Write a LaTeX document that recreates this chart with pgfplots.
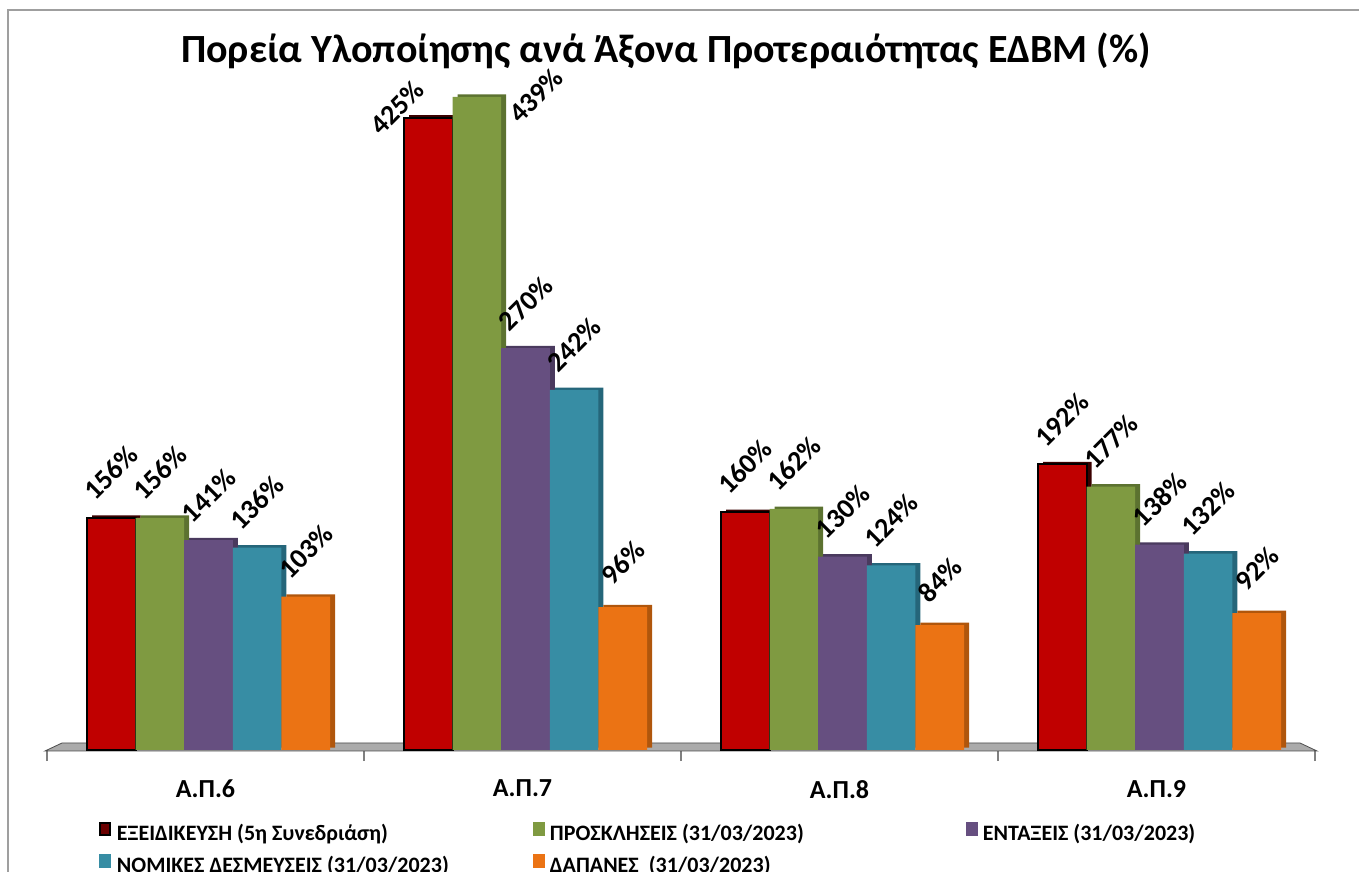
\documentclass[border=0pt]{standalone}
\usepackage{fontspec}
\setmainfont{Carlito}
\usepackage{pgfplots}
\usepackage{pgfplotstable}
\pgfplotsset{compat=1.18}

\definecolor{cRed}{HTML}{C00000}
\definecolor{cGreen}{HTML}{7F9A41}
\definecolor{cPurple}{HTML}{664F80}
\definecolor{cTeal}{HTML}{378DA4}
\definecolor{cOrange}{HTML}{EB7314}
\definecolor{sRed}{HTML}{3A0000}
\definecolor{sGreen}{HTML}{5C7230}
\definecolor{sPurple}{HTML}{4A3A5E}
\definecolor{sTeal}{HTML}{25667A}
\definecolor{sOrange}{HTML}{B0560C}
\definecolor{floor}{HTML}{ABABAB}

% values in %, one row per priority axis
\pgfplotstableread{
x ex pr en no da
0 156 156 141 136 103
1 425 439 270 242 96
2 160 162 130 124 84
3 192 177 138 132 92
}\data

\begin{document}
\begin{tikzpicture}
\path[use as bounding box] (0,0) rectangle (679.5pt,436pt);
\draw[gray!75, line width=0.8pt] (4pt,-1pt) -- (4pt,431pt) -- (680pt,431pt);
\node[anchor=base, font=\bfseries\fontsize{20}{23}\selectfont] at (333pt,404.5pt)
  {Πορεία Υλοποίησης ανά Άξονα Προτεραιότητας ΕΔΒΜ (\%)};
\begin{axis}[
    at={(23.5pt,61pt)}, anchor=south west,
    scale only axis, width=634pt, height=334.8pt,
    xmin=-0.5, xmax=3.5, ymin=0, ymax=450,
    axis x line*=bottom, axis y line=none,
    x axis line style={draw=none},
    xtick={0,1,2,3},
    xticklabels={Α.Π.6, Α.Π.7, Α.Π.8, Α.Π.9},
    major tick length=0pt,
    xticklabel style={font=\bfseries\fontsize{13}{15}\selectfont, yshift=-11.5pt},
    extra x ticks={-0.5,0.5,1.5,2.5,3.5},
    extra x tick labels={},
    extra x tick style={major tick length=5.5pt, tick align=outside,
        tick style={gray, line width=0.6pt}},
    ybar, bar width=24.3pt,
    /pgf/number format/assume math mode=true,
    every node near coord/.append style={font=\bfseries\fontsize{14}{16}\selectfont,
        anchor=center, yshift=22.5pt, rotate=45},
    legend columns=3,
    legend cell align=left,
    legend style={at={(0.041,-0.108)}, anchor=north west, draw=none, fill=none,
        inner sep=0pt, outer sep=0pt, row sep=3.5pt, column sep=0pt,
        font=\bfseries\fontsize{11}{13}\selectfont,
        nodes={inner sep=0pt, text height=8pt, text depth=3pt}},
    legend image code/.code={\fill[#1] (0pt,-0.2pt) rectangle (6pt,6.8pt); \path (8.5pt,0pt);},
    clip=false,
]
\fill[floor, draw=gray!60!black, line width=0.4pt]
    ([xshift=-1pt,yshift=-0.5pt]axis cs:-0.5,0) -- ([xshift=7.5pt,yshift=3.5pt]axis cs:-0.5,0)
 -- ([xshift=-7.5pt,yshift=3.5pt]axis cs:3.5,0) -- ([xshift=1pt,yshift=-0.5pt]axis cs:3.5,0) -- cycle;

% side faces
\addplot[forget plot, fill=sRed, draw=none, bar shift=-47.1pt, xshift=2.5pt, yshift=1.2pt] table[x=x,y=ex]{\data};
\addplot[forget plot, fill=sGreen, draw=none, bar shift=-22.8pt, xshift=2.5pt, yshift=1.2pt] table[x=x,y=pr]{\data};
\addplot[forget plot, fill=sPurple, draw=none, bar shift=1.5pt, xshift=2.5pt, yshift=1.2pt] table[x=x,y=en]{\data};
\addplot[forget plot, fill=sTeal, draw=none, bar shift=25.8pt, xshift=2.5pt, yshift=1.2pt] table[x=x,y=no]{\data};
\addplot[forget plot, fill=sOrange, draw=none, bar shift=50.1pt, xshift=2.5pt, yshift=1.2pt] table[x=x,y=da]{\data};

% front faces
\addplot[fill=cRed, draw=black, line width=1pt, bar shift=-47.1pt,
    nodes near coords={\pgfmathprintnumber{\pgfplotspointmeta}\%},
    coordinate style/.condition={abs(x-1)<0.1}{xshift=-15.5pt, yshift=-17.5pt},
    legend image code/.code={\draw[black, line width=1pt, fill=cRed!55!black] (0.5pt,0.3pt) rectangle (5.5pt,6.3pt); \path (8.5pt,0pt);}]
    table[x=x,y=ex]{\data};
\addlegendentry{\makebox[208pt][l]{ΕΞΕΙΔΙΚΕΥΣΗ (5η Συνεδριάση)}}
\addplot[fill=cGreen, draw=none, bar shift=-22.8pt,
    nodes near coords={\pgfmathprintnumber{\pgfplotspointmeta}\%},
    coordinate style/.condition={abs(x-1)<0.1}{xshift=29.5pt, yshift=-22pt}]
    table[x=x,y=pr]{\data};
\addlegendentry{\makebox[208pt][l]{ΠΡΟΣΚΛΗΣΕΙΣ (31/03/2023)}}
\addplot[fill=cPurple, draw=none, bar shift=1.5pt,
    nodes near coords={\pgfmathprintnumber{\pgfplotspointmeta}\%}]
    table[x=x,y=en]{\data};
\addlegendentry{ΕΝΤΑΞΕΙΣ (31/03/2023)}
\addplot[fill=cTeal, draw=none, bar shift=25.8pt,
    nodes near coords={\pgfmathprintnumber{\pgfplotspointmeta}\%}]
    table[x=x,y=no]{\data};
\addlegendentry{\makebox[208pt][l]{ΝΟΜΙΚΕΣ ΔΕΣΜΕΥΣΕΙΣ (31/03/2023)}}
\addplot[fill=cOrange, draw=none, bar shift=50.1pt,
    nodes near coords={\pgfmathprintnumber{\pgfplotspointmeta}\%}]
    table[x=x,y=da]{\data};
\addlegendentry{\makebox[208pt][l]{ΔΑΠΑΝΕΣ~ (31/03/2023)}}
\end{axis}
\end{tikzpicture}
\end{document}
